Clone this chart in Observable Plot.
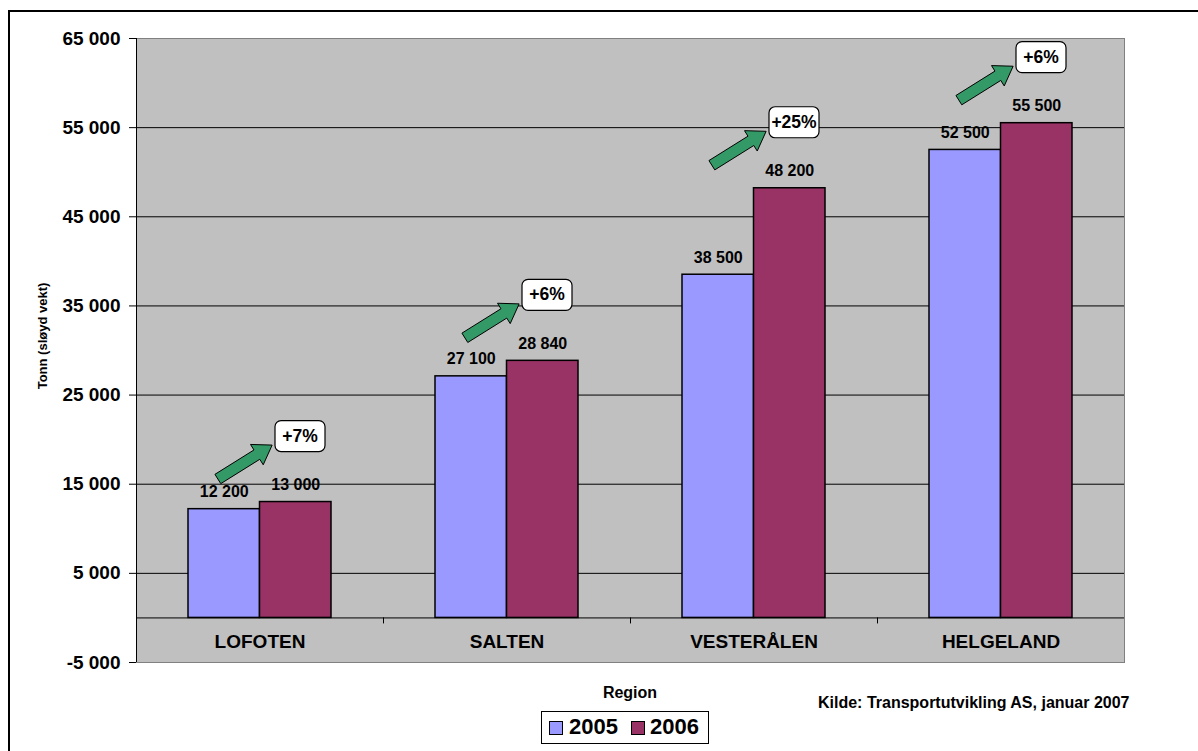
<!DOCTYPE html>
<html>
<head>
<meta charset="utf-8">
<script src="https://cdn.jsdelivr.net/npm/d3@7"></script>
<script src="https://cdn.jsdelivr.net/npm/@observablehq/plot@0.6"></script>
<style>
  html, body { margin: 0; padding: 0; background: #fff; overflow: hidden; }
  body { font-family: "Liberation Sans", Arial, sans-serif; }
  #wrap { position: relative; width: 1198px; height: 751px; overflow: hidden; }
  #chart { position: absolute; left: 0; top: 0; }
  #frame { position: absolute; left: 8px; top: 10px; width: 1400px; height: 1000px;
           border-left: 2px solid #000; border-top: 2px solid #000; pointer-events: none; z-index: 5; }
  .lbl { position: absolute; font-weight: bold; color: #000; white-space: nowrap; line-height: 1; }
  #ytitle { left: 42px; top: 336px; transform: translate(-50%, -50%) rotate(-90deg); font-size: 13px; }
  #xlabel { left: 630px; top: 693px; transform: translate(-50%, -50%); font-size: 16px; }
  #source { left: 818px; top: 703px; transform: translateY(-50%); font-size: 16px; }
  #legend { position: absolute; left: 541px; top: 711px; width: 166px; height: 31px;
            border: 1px solid #000; background: #fff; }
  .sw { position: absolute; top: 9px; width: 12px; height: 12px; border: 1px solid #000; }
  .lt { position: absolute; top: 15px; transform: translateY(-50%); font-size: 22px; font-weight: bold; line-height: 1; }
</style>
</head>
<body>
<div id="wrap">
  <div id="chart"></div>
  <div id="ytitle" class="lbl"></div>
  <div id="xlabel" class="lbl"></div>
  <div id="source" class="lbl"></div>
  <div id="legend"></div>
  <div id="frame"></div>
</div>
<script>
// ---- data ----
const regions = ["LOFOTEN", "SALTEN", "VESTERÅLEN", "HELGELAND"];
const years = ["2005", "2006"];
const values2005 = [12200, 27100, 38500, 52500];
const values2006 = [13000, 28840, 48200, 55500];
const growthLabels = ["+7%", "+6%", "+25%", "+6%"];
const yTicks = [-5000, 5000, 15000, 25000, 35000, 45000, 55000, 65000];
const yTitle = "Tonn (sløyd vekt)";
const xTitle = "Region";
const sourceText = "Kilde: Transportutvikling AS, januar 2007";

// ---- styles ----
const colors = {"2005": "#9999FF", "2006": "#993366"};
const font = "'Liberation Sans', Arial, sans-serif";

const fmt = d => (d < 0 ? "-" : "") + d3.format(",")(Math.abs(d)).replace(/,/g, " ");

const rows2005 = regions.map((r, i) => ({region: r, value: values2005[i]}));
const rows2006 = regions.map((r, i) => ({region: r, value: values2006[i], growth: growthLabels[i]}));

// block arrow symbol
function arrowSymbol(angleDeg, len, shaft, head, headLen) {
  const a = angleDeg * Math.PI / 180;
  const ux = Math.cos(a), uy = -Math.sin(a), nx = Math.sin(a), ny = Math.cos(a);
  const L = len / 2, hs = shaft / 2, hh = head / 2, hb = L - headLen;
  const pts = [[-L, -hs], [hb, -hs], [hb, -hh], [L, 0], [hb, hh], [hb, hs], [-L, hs]];
  return {
    draw(ctx) {
      pts.forEach(([u, v], i) => {
        const x = u * ux + v * nx, y = u * uy + v * ny;
        if (i) ctx.lineTo(x, y); else ctx.moveTo(x, y);
      });
      ctx.closePath();
    }
  };
}
// rounded box symbol
const boxSymbol = {
  draw(ctx) {
    const w = 25, h = 15.5, r = 6;
    ctx.moveTo(-w + r, -h);
    ctx.lineTo(w - r, -h); ctx.arcTo(w, -h, w, -h + r, r);
    ctx.lineTo(w, h - r); ctx.arcTo(w, h, w - r, h, r);
    ctx.lineTo(-w + r, h); ctx.arcTo(-w, h, -w, h - r, r);
    ctx.lineTo(-w, -h + r); ctx.arcTo(-w, -h, -w + r, -h, r);
    ctx.closePath();
  }
};

const halfBand = 123.5;
const boxDx = 40, boxDy = -66, arrDx = -15, arrDy = -40;

const plot = Plot.plot({
  width: 1198,
  height: 680,
  marginTop: 38,
  marginBottom: 18,
  marginLeft: 136,
  marginRight: 74,
  style: {fontFamily: font, fontSize: "19px", fontWeight: "bold", color: "#000", background: "transparent"},
  x: {domain: regions, padding: 0, axis: null},
  y: {domain: [-5000, 65000], ticks: yTicks, tickFormat: fmt, tickSize: 7, tickPadding: 9, label: null},
  marks: [
    Plot.frame({fill: "#C0C0C0", stroke: null}),
    Plot.ruleY(yTicks.filter(t => t > -5000 && t < 65000), {stroke: "#000", strokeWidth: 1}),
    Plot.ruleY([0], {stroke: "#000", strokeWidth: 1}),
    Plot.ruleX(regions.slice(1), {x: d => d, y1: 0, y2: 0, insetBottom: -6, dx: -halfBand, stroke: "#000"}),
    Plot.barY(rows2005, {x: "region", y: "value", fill: colors["2005"], stroke: "#000", strokeWidth: 1.5, insetLeft: 52, insetRight: 123.5}),
    Plot.barY(rows2006, {x: "region", y: "value", fill: colors["2006"], stroke: "#000", strokeWidth: 1.5, insetLeft: 123.5, insetRight: 52}),
    Plot.text(rows2005, {x: "region", y: "value", text: d => fmt(d.value), dx: -35.75, dy: -12, lineAnchor: "bottom", fontSize: 16, fontWeight: "bold", fill: "#000"}),
    Plot.text(rows2006, {x: "region", y: "value", text: d => fmt(d.value), dx: 35.75, dy: -12, lineAnchor: "bottom", fontSize: 16, fontWeight: "bold", fill: "#000"}),
    Plot.dot(rows2006, {x: "region", y: "value", dx: arrDx, dy: arrDy, symbol: arrowSymbol(32, 64, 11, 24, 18), fill: "#339966", stroke: "#000", strokeWidth: 1}),
    Plot.dot(rows2006, {x: "region", y: "value", dx: boxDx, dy: boxDy, symbol: boxSymbol, fill: "#fff", stroke: "#000", strokeWidth: 1.2}),
    Plot.text(rows2006, {x: "region", y: "value", text: "growth", dx: boxDx, dy: boxDy, fontSize: 17.5, fontWeight: "bold", fill: "#000"}),
    Plot.text(regions, {x: d => d, frameAnchor: "bottom", dy: -15, fontSize: 19, fontWeight: "bold", fill: "#000"}),
    Plot.frame({stroke: "#808080", fill: null}),
    Plot.ruleX([regions[0]], {x: d => d, dx: -halfBand, stroke: "#000"})
  ]
});
document.getElementById("chart").appendChild(plot);

document.getElementById("ytitle").textContent = yTitle;
document.getElementById("xlabel").textContent = xTitle;
document.getElementById("source").textContent = sourceText;

// legend
const legend = document.getElementById("legend");
const swLeft = [7, 89], txLeft = [27, 108];
years.forEach((y, i) => {
  const sw = document.createElement("div");
  sw.className = "sw";
  sw.style.left = swLeft[i] + "px";
  sw.style.background = colors[y];
  legend.appendChild(sw);
  const t = document.createElement("div");
  t.className = "lt";
  t.style.left = txLeft[i] + "px";
  t.textContent = y;
  legend.appendChild(t);
});
</script>
</body>
</html>
